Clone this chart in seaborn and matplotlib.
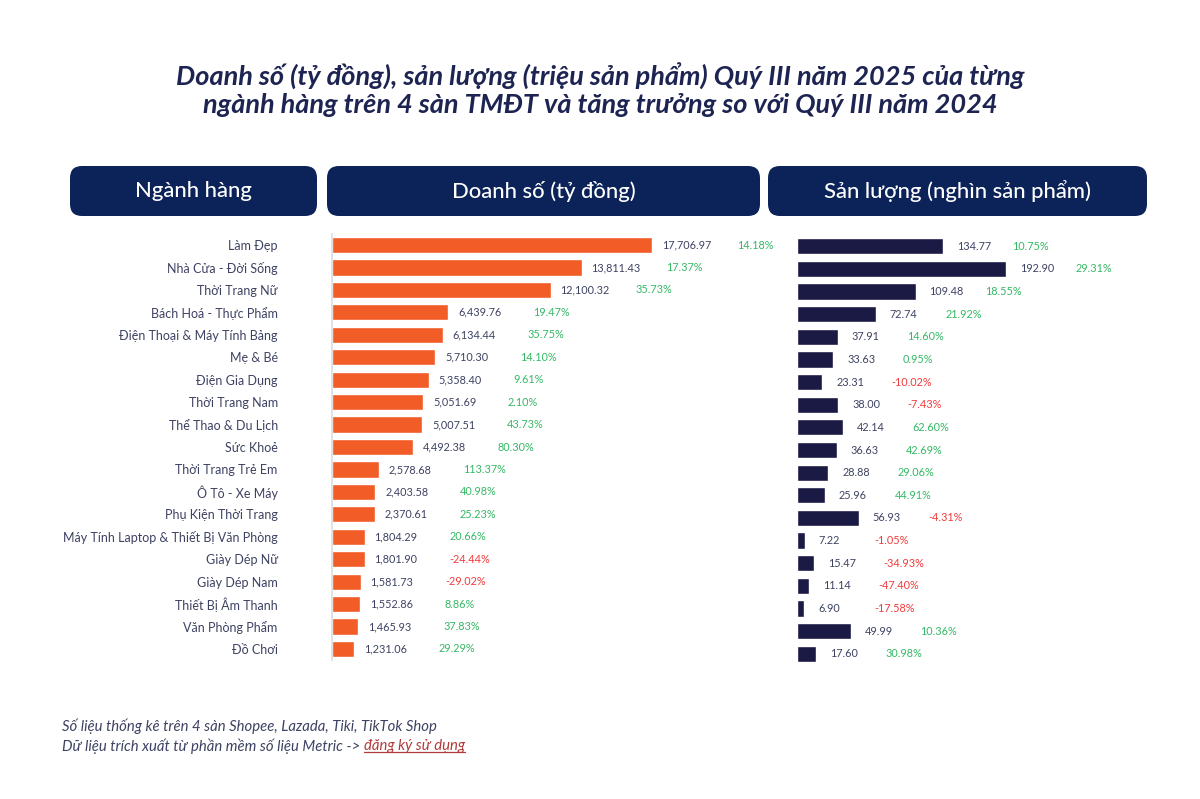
import seaborn as sns
import matplotlib.pyplot as plt
import pandas as pd
from matplotlib.patches import FancyBboxPatch
from matplotlib.lines import Line2D

# du lieu doc tu hinh
nganh_hang = ['Làm Đẹp', 'Nhà Cửa - Đời Sống', 'Thời Trang Nữ', 'Bách Hoá - Thực Phẩm',
              'Điện Thoại & Máy Tính Bảng', 'Mẹ & Bé', 'Điện Gia Dụng', 'Thời Trang Nam',
              'Thể Thao & Du Lịch', 'Sức Khoẻ', 'Thời Trang Trẻ Em', 'Ô Tô - Xe Máy',
              'Phụ Kiện Thời Trang', 'Máy Tính Laptop & Thiết Bị Văn Phòng', 'Giày Dép Nữ',
              'Giày Dép Nam', 'Thiết Bị Âm Thanh', 'Văn Phòng Phẩm', 'Đồ Chơi']
doanh_so = [17706.97, 13811.43, 12100.32, 6439.76, 6134.44, 5710.30, 5358.40, 5051.69,
            5007.51, 4492.38, 2578.68, 2403.58, 2370.61, 1804.29, 1801.90, 1581.73,
            1552.86, 1465.93, 1231.06]
tang_truong_ds = [14.18, 17.37, 35.73, 19.47, 35.75, 14.10, 9.61, 2.10, 43.73, 80.30,
                  113.37, 40.98, 25.23, 20.66, -24.44, -29.02, 8.86, 37.83, 29.29]
san_luong = [134.77, 192.90, 109.48, 72.74, 37.91, 33.63, 23.31, 38.00, 42.14, 36.63,
             28.88, 25.96, 56.93, 7.22, 15.47, 11.14, 6.90, 49.99, 17.60]
tang_truong_sl = [10.75, 29.31, 18.55, 21.92, 14.60, 0.95, -10.02, -7.43, 62.60, 42.69,
                  29.06, 44.91, -4.31, -1.05, -34.93, -47.40, -17.58, 10.36, 30.98]

df = pd.DataFrame({'nganh': nganh_hang, 'doanh_so': doanh_so, 'san_luong': san_luong,
                   'tt_ds': tang_truong_ds, 'tt_sl': tang_truong_sl})

sns.set_style('white')
plt.rcParams['font.family'] = ['Lato', 'DejaVu Sans']

NAVY = '#0c2359'
TXT = '#3d4262'
GREEN = '#35b865'
RED = '#f23a3a'
W, H = 1200, 799

fig = plt.figure(figsize=(12, 7.99), dpi=100)
fig.patch.set_facecolor('white')

# tieu de
fig.text(0.5, 1 - 76 / H, 'Doanh số (tỷ đồng), sản lượng (triệu sản phẩm) Quý III năm 2025 của từng',
         ha='center', va='center', fontsize=19.5, fontweight='bold', style='italic', color='#1d2452')
fig.text(0.5, 1 - 105 / H, 'ngành hàng trên 4 sàn TMĐT và tăng trưởng so với Quý III năm 2024',
         ha='center', va='center', fontsize=19.5, fontweight='bold', style='italic', color='#1d2452')

# cac o tieu de cot
for x0, x1, label in [(70, 317, 'Ngành hàng'), (327, 760, 'Doanh số (tỷ đồng)'),
                      (768, 1147, 'Sản lượng (nghìn sản phẩm)')]:
    box = FancyBboxPatch((x0 / 100, (H - 216) / 100), (x1 - x0) / 100, 0.5,
                         boxstyle='round,pad=0,rounding_size=0.12',
                         transform=fig.dpi_scale_trans, facecolor=NAVY, edgecolor='none')
    fig.patches.append(box)
    fig.text((x0 + x1) / 2 / W, 1 - 191 / H, label, ha='center', va='center',
             fontsize=15.8, fontweight='medium', color='white')

# bieu do doanh so
ax1 = fig.add_axes([332 / W, 1 - 660.2 / H, 428 / W, 426.4 / H])
sns.barplot(data=df, y='nganh', x='doanh_so', orient='h', color='#f25c27',
            saturation=1, width=0.72, ax=ax1)
ax1.set_xlim(0, 428 / (320 / 17706.97))
ax1.set_ylim(18.5, -0.5)
ax1.set_xlabel('')
ax1.set_ylabel('')
ax1.set_xticks([])
ax1.tick_params(axis='y', length=0, pad=39, labelsize=9, labelcolor=TXT)
for s in ['top', 'right', 'bottom']:
    ax1.spines[s].set_visible(False)
ax1.spines['left'].set_color('#dcdcdc')
ax1.spines['left'].set_linewidth(1.2)

for i, (v, g) in enumerate(zip(df['doanh_so'], df['tt_ds'])):
    ax1.annotate(f'{v:,.2f}', (v, i), xytext=(7, 0), textcoords='offset points',
                 ha='left', va='center', fontsize=7.8, color=TXT)
    ax1.annotate(f'{g:.2f}%', (v, i), xytext=(61, 0), textcoords='offset points',
                 ha='left', va='center', fontsize=7.8, color=GREEN if g >= 0 else RED)

# bieu do san luong
ax2 = fig.add_axes([797 / W, 1 - 665.3 / H, 350 / W, 430.6 / H])
sns.barplot(data=df, y='nganh', x='san_luong', orient='h', color='#1b1a45',
            saturation=1, width=0.72, ax=ax2)
ax2.set_xlim(0, 350 / (209 / 192.90))
ax2.set_ylim(18.5, -0.5)
ax2.set_xlabel('')
ax2.set_ylabel('')
ax2.set_xticks([])
ax2.set_yticks([])
sns.despine(ax=ax2, left=True, bottom=True)

for i, (v, g) in enumerate(zip(df['san_luong'], df['tt_sl'])):
    ax2.annotate(f'{v:.2f}', (v, i), xytext=(10, 0), textcoords='offset points',
                 ha='left', va='center', fontsize=7.8, color=TXT)
    ax2.annotate(f'{g:.2f}%', (v, i), xytext=(50, 0), textcoords='offset points',
                 ha='left', va='center', fontsize=7.8, color=GREEN if g >= 0 else RED)

# ghi chu
fig.text(62 / W, 1 - 726 / H, 'Số liệu thống kê trên 4 sàn Shopee, Lazada, Tiki, TikTok Shop',
         ha='left', va='center', fontsize=10.7, style='italic', color=TXT)
t1 = fig.text(62 / W, 1 - 746 / H, 'Dữ liệu trích xuất từ phần mềm số liệu Metric -> ',
              ha='left', va='center', fontsize=10.7, style='italic', color=TXT)
fig.canvas.draw()
bb = t1.get_window_extent()
t2 = fig.text(bb.x1 / W, 1 - 746 / H, 'đăng ký sử dụng', ha='left', va='center',
              fontsize=10.7, style='italic', color='#b23a3a')
fig.canvas.draw()
bb2 = t2.get_window_extent()
fig.lines.append(Line2D([bb2.x0 / W, bb2.x1 / W], [(bb2.y0 + 1) / H, (bb2.y0 + 1) / H],
                        transform=fig.transFigure, color='#b23a3a', linewidth=0.9))

fig.savefig('out.png', dpi=100)
